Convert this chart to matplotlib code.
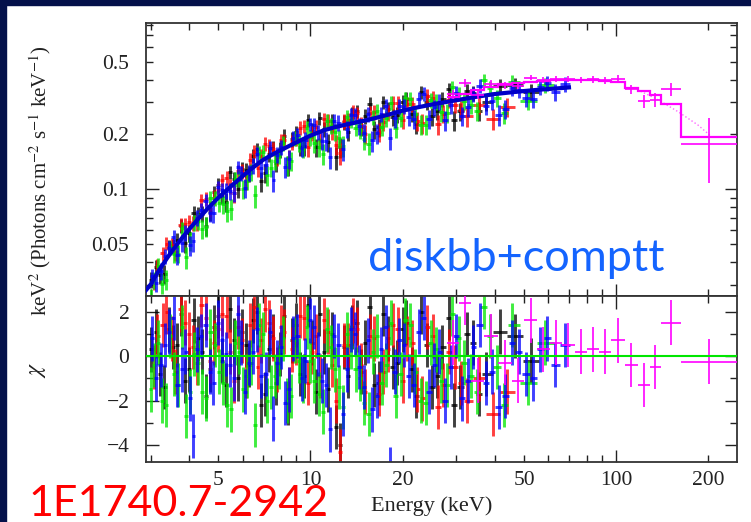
import numpy as np
import matplotlib
matplotlib.use("Agg")
import matplotlib.pyplot as plt
from matplotlib.ticker import FixedLocator, FuncFormatter
from matplotlib.patches import Rectangle

# ---------------- data ----------------
# black data group (two read-off batches)
k_E = [3.02, 3.22, 3.44, 3.66, 3.9, 4.15, 4.42, 4.7, 5.0, 5.3, 5.62, 5.96, 6.32, 6.7, 7.1, 7.52, 7.97, 8.45,
       8.95, 9.5, 10.1, 10.7, 11.4, 12.1, 12.9, 13.7, 14.6, 15.6, 16.7, 17.9, 19.2, 20.6, 22.2, 24.0, 26.0,
       28.3, 30.9, 33.9, 37.4, 41.5, 46.5, 52.5]
k_F = [0.0319, 0.034, 0.0482, 0.0525, 0.0507, 0.0742, 0.0734, 0.0752, 0.1062, 0.0853, 0.1134, 0.1288, 0.1219,
       0.1656, 0.1228, 0.169, 0.1646, 0.1359, 0.2052, 0.172, 0.2099, 0.2451, 0.181, 0.1496, 0.234, 0.26, 0.2195,
       0.2952, 0.2191, 0.2765, 0.257, 0.314, 0.2296, 0.3024, 0.2685, 0.3545, 0.2675, 0.3381, 0.3008, 0.3707,
       0.3717, 0.341]
k_err = [0.0031, 0.0037, 0.0043, 0.005, 0.0057, 0.0064, 0.0072, 0.008, 0.009, 0.0098, 0.0106, 0.0116, 0.0127,
         0.0138, 0.0148, 0.0155, 0.0163, 0.0172, 0.018, 0.0189, 0.0198, 0.0206, 0.0213, 0.022, 0.0225, 0.023,
         0.0236, 0.0242, 0.0249, 0.0256, 0.0265, 0.0273, 0.028, 0.0288, 0.0295, 0.0303, 0.0311, 0.0319, 0.0327,
         0.0334, 0.0341, 0.0348]
k_chi = [0.3, -0.8, 1.2, 0.5, -1.1, 1.6, 0.2, -0.6, 1.8, -1.3, 0.7, 1.1, -0.4, 2.0, -1.7, 0.9, 0.1, -2.1, 1.4,
         -0.9, 0.6, 1.9, -1.5, -3.2, 0.4, 1.3, -0.7, 2.2, -1.2, 0.8, -0.3, 1.5, -1.8, 0.5, -0.9, 1.7, -1.4, 0.6,
         -0.8, 1.1, 0.9, -0.2]
k2_E = [3.12, 3.33, 3.55, 3.78, 4.02, 4.28, 4.56, 4.85, 5.15, 5.46, 5.79, 6.14, 6.51, 6.9, 7.31, 7.74, 8.2,
        8.7, 9.22, 9.8, 10.4, 11.05, 11.75, 12.5, 13.3, 14.15, 15.1, 16.15, 17.3, 18.55, 20.0, 21.4, 23.0,
        25.0, 27.0, 29.5, 32.5, 35.5]
k2_F = [0.0377, 0.0344, 0.0489, 0.0631, 0.0573, 0.0734, 0.0631, 0.0961, 0.0921, 0.1246, 0.1008, 0.1281,
        0.1531, 0.1108, 0.1555, 0.1399, 0.1971, 0.1883, 0.1702, 0.2386, 0.1697, 0.2142, 0.2376, 0.17, 0.2075,
        0.268, 0.2533, 0.2132, 0.2999, 0.248, 0.3024, 0.2604, 0.3408, 0.2511, 0.311, 0.2395, 0.3476, 0.2681]
k2_err = [0.0034, 0.004, 0.0047, 0.0053, 0.0061, 0.0068, 0.0077, 0.0085, 0.0094, 0.0103, 0.0112, 0.0122,
          0.0132, 0.0142, 0.0151, 0.0159, 0.0167, 0.0176, 0.0185, 0.0194, 0.0202, 0.021, 0.0216, 0.0222,
          0.0228, 0.0233, 0.0239, 0.0245, 0.0252, 0.0261, 0.027, 0.0277, 0.0284, 0.0292, 0.0299, 0.0307,
          0.0316, 0.0323]
k2_chi = [1.1, -1.4, 0.4, 1.9, -0.6, 0.8, -1.8, 1.3, -0.2, 2.1, -1.0, 0.5, 1.6, -2.2, 0.3, -1.2, 1.8, 0.7,
          -0.8, 2.3, -1.6, 0.2, 1.0, -4.0, -0.9, 1.5, 0.6, -1.3, 1.9, -0.5, 1.2, -0.6, 2.0, -1.4, 0.4, -2.2,
          1.0, -1.7]

# red data group
r_E = [3.08, 3.3, 3.52, 3.76, 4.0, 4.27, 4.55, 4.85, 5.15, 5.47, 5.8, 6.15, 6.52, 6.9, 7.3, 7.75, 8.2, 8.7,
       9.22, 9.8, 10.4, 11.05, 11.75, 12.5, 13.3, 14.2, 15.1, 16.1, 17.3, 18.6, 20.0, 21.5, 23.2, 25.1, 27.2,
       29.6, 32.4, 35.6, 39.4, 44.0]
r_F = [0.0314, 0.0445, 0.0497, 0.0641, 0.066, 0.066, 0.0889, 0.0901, 0.1119, 0.104, 0.1254, 0.111, 0.161,
       0.153, 0.1737, 0.1495, 0.1854, 0.1813, 0.2171, 0.1707, 0.2202, 0.2424, 0.2083, 0.158, 0.2394, 0.261,
       0.2008, 0.2646, 0.2353, 0.2975, 0.2403, 0.2936, 0.23, 0.3183, 0.2601, 0.2917, 0.252, 0.2907, 0.2442,
       0.2839]
r_err = [0.0033, 0.0039, 0.0046, 0.0053, 0.006, 0.0068, 0.0076, 0.0085, 0.0094, 0.0102, 0.0111, 0.0122, 0.0132,
         0.0143, 0.0151, 0.0159, 0.0167, 0.0176, 0.0184, 0.0194, 0.0202, 0.0209, 0.0217, 0.0222, 0.0228, 0.0233,
         0.0239, 0.0245, 0.0253, 0.0261, 0.027, 0.0277, 0.0284, 0.0292, 0.0299, 0.0307, 0.0315, 0.0323, 0.033,
         0.0338]
r_chi = [-0.5, 1.4, 0.8, 2.1, 1.0, -0.3, 1.7, 0.6, 1.9, 0.2, 1.3, -0.9, 2.2, 0.7, 1.5, -0.6, 1.1, 0.3, 1.8,
         -1.2, 0.9, 1.6, -0.4, -4.3, 0.5, 1.2, -1.6, 0.8, -0.7, 1.4, -1.1, 0.6, -1.9, 0.9, -1.3, -0.5, -2.0,
         -1.0, -2.6, -1.6]
r2_E = [3.15, 3.38, 3.62, 3.88, 4.13, 4.4, 4.7, 5.0, 5.32, 5.64, 5.98, 6.34, 6.72, 7.12, 7.55, 8.0, 8.48, 8.98,
        9.52, 10.1, 10.72, 11.4, 12.1, 12.9, 13.75, 14.65, 15.6, 16.7, 17.9, 19.3, 20.7, 22.3, 24.1, 26.1,
        28.4, 31.0]
r2_F = [0.0382, 0.0504, 0.0456, 0.0644, 0.0655, 0.0873, 0.0784, 0.1008, 0.1156, 0.0952, 0.1252, 0.1448,
        0.1311, 0.1779, 0.1674, 0.1853, 0.1462, 0.1919, 0.2223, 0.203, 0.1875, 0.2364, 0.176, 0.2363, 0.2668,
        0.2266, 0.2638, 0.2067, 0.2637, 0.2979, 0.2948, 0.238, 0.3254, 0.2272, 0.3091, 0.2737]
r2_err = [0.0035, 0.0042, 0.0049, 0.0056, 0.0063, 0.0071, 0.008, 0.009, 0.0098, 0.0107, 0.0117, 0.0127,
          0.0138, 0.0147, 0.0155, 0.0164, 0.0172, 0.0181, 0.019, 0.0199, 0.0206, 0.0213, 0.022, 0.0225, 0.023,
          0.0236, 0.0242, 0.0249, 0.0256, 0.0266, 0.0273, 0.028, 0.0288, 0.0295, 0.0303, 0.0311]
r2_chi = [0.9, 2.0, -0.7, 1.5, 0.4, 2.3, -0.2, 1.2, 1.8, -1.1, 0.7, 1.4, -0.5, 2.1, 0.8, 1.3, -1.5, 0.6, 1.7,
          0.2, -0.9, 1.1, -2.0, 0.5, 1.6, -0.4, 0.9, -1.7, 0.3, 1.2, 0.8, -1.5, 1.3, -2.3, 0.2, -1.2]

# green data group
g_E = [3.0, 3.18, 3.38, 3.59, 3.81, 4.05, 4.3, 4.57, 4.86, 5.16, 5.48, 5.82, 6.18, 6.57, 6.98, 7.41, 7.87,
       8.36, 8.88, 9.43, 10.0, 10.65, 11.3, 12.0, 12.8, 13.6, 14.5, 15.5, 16.5, 17.7, 19.0, 20.4, 22.0, 23.8,
       25.8, 28.0, 30.5, 33.4, 36.8, 40.8, 45.6, 51.5, 58.5]
g_F = [0.0255, 0.0382, 0.032, 0.0442, 0.061, 0.0521, 0.0669, 0.0624, 0.0893, 0.0827, 0.0783, 0.1142, 0.111,
       0.0925, 0.1595, 0.1316, 0.153, 0.136, 0.1915, 0.1673, 0.1931, 0.1702, 0.2374, 0.2059, 0.1733, 0.2392,
       0.2115, 0.1783, 0.2703, 0.2448, 0.2165, 0.3155, 0.2595, 0.2267, 0.3028, 0.2627, 0.3348, 0.2894, 0.3977,
       0.3164, 0.3876, 0.3054, 0.3742]
g_err = [0.003, 0.0036, 0.0041, 0.0048, 0.0054, 0.0062, 0.0069, 0.0077, 0.0085, 0.0094, 0.0103, 0.0112, 0.0122,
         0.0134, 0.0145, 0.0153, 0.0161, 0.017, 0.0179, 0.0188, 0.0197, 0.0205, 0.0212, 0.0219, 0.0225, 0.023,
         0.0235, 0.0241, 0.0248, 0.0255, 0.0264, 0.0272, 0.0279, 0.0287, 0.0294, 0.0302, 0.031, 0.0318, 0.0326,
         0.0333, 0.034, 0.0347, 0.0353]
g_chi = [-1.5, 0.6, -2.2, -0.8, 1.3, -1.6, -0.3, -1.9, 0.5, -1.2, -2.4, 0.2, -0.9, -3.1, 1.0, -1.4, -0.5,
         -2.0, 0.7, -1.1, -0.2, -1.7, 1.2, -0.6, -2.3, 0.4, -1.0, -2.6, 0.9, -0.4, -1.8, 1.6, -0.7, -2.1, 0.3,
         -1.3, 0.8, -0.9, 2.2, -0.5, 1.4, -1.2, 0.6]
g2_E = [3.09, 3.28, 3.48, 3.7, 3.93, 4.17, 4.43, 4.71, 5.01, 5.32, 5.65, 6.0, 6.37, 6.77, 7.19, 7.64, 8.11,
        8.61, 9.15, 9.71, 10.3, 10.95, 11.65, 12.4, 13.2, 14.05, 15.0, 16.0, 17.1, 18.3, 19.7, 21.2, 22.9,
        24.7, 26.8, 29.1, 31.8, 35.0, 38.5, 43.0]
g2_F = [0.0317, 0.0304, 0.048, 0.0444, 0.0423, 0.0657, 0.0605, 0.0899, 0.0837, 0.0764, 0.1134, 0.1003,
        0.1242, 0.1585, 0.1192, 0.1429, 0.1793, 0.1427, 0.1793, 0.217, 0.1789, 0.1568, 0.2236, 0.1901, 0.2497,
        0.2181, 0.188, 0.2489, 0.2209, 0.2979, 0.2466, 0.3146, 0.2264, 0.3074, 0.2652, 0.363, 0.3046, 0.2705,
        0.3586, 0.2629]
g2_err = [0.0033, 0.0038, 0.0044, 0.0051, 0.0058, 0.0065, 0.0072, 0.0081, 0.009, 0.0098, 0.0107, 0.0118,
          0.0128, 0.0139, 0.0149, 0.0157, 0.0166, 0.0174, 0.0183, 0.0192, 0.0201, 0.0209, 0.0215, 0.0221,
          0.0227, 0.0232, 0.0238, 0.0244, 0.0251, 0.0259, 0.0268, 0.0276, 0.0283, 0.029, 0.0298, 0.0305,
          0.0314, 0.0322, 0.0329, 0.0337]
g2_chi = [-0.4, -2.0, 0.9, -1.3, -2.7, 0.1, -1.6, 1.1, -0.7, -2.2, 0.6, -1.5, -0.3, 1.4, -2.0, -0.9, 0.8,
          -1.8, -0.2, 1.3, -1.1, -2.5, 0.4, -1.4, 1.0, -0.6, -2.1, 0.2, -1.2, 1.5, -0.8, 1.4, -2.0, 0.6, -1.1,
          1.9, -0.3, -1.6, 0.9, -2.2]

# blue data group
b_E = [3.04, 3.24, 3.45, 3.67, 3.9, 4.14, 4.4, 4.68, 4.97, 5.28, 5.61, 5.95, 6.32, 6.71, 7.13, 7.57, 8.04,
       8.54, 9.07, 9.63, 10.25, 10.9, 11.6, 12.35, 13.15, 14.0, 14.95, 15.95, 17.0, 18.2, 19.5, 21.0, 22.6,
       24.4, 26.4, 28.7, 31.2, 34.1, 37.4, 41.2, 45.6, 50.6, 56.4, 63.0, 68.0]
b_F = [0.0335, 0.0355, 0.0477, 0.0435, 0.0581, 0.052, 0.0774, 0.0744, 0.1024, 0.098, 0.0954, 0.123, 0.1232,
       0.1557, 0.1362, 0.1123, 0.1706, 0.147, 0.1984, 0.1872, 0.226, 0.1851, 0.15, 0.232, 0.2134, 0.2552,
       0.2047, 0.1854, 0.2585, 0.19, 0.2857, 0.2503, 0.313, 0.2428, 0.3029, 0.2888, 0.2527, 0.3328, 0.2878,
       0.2564, 0.3604, 0.3183, 0.3626, 0.3427, 0.379]
b_err = [0.0031, 0.0037, 0.0043, 0.005, 0.0057, 0.0064, 0.0071, 0.008, 0.0089, 0.0097, 0.0106, 0.0116, 0.0127,
         0.0139, 0.0148, 0.0156, 0.0164, 0.0173, 0.0182, 0.0191, 0.02, 0.0208, 0.0215, 0.0221, 0.0227, 0.0232,
         0.0238, 0.0244, 0.0251, 0.0259, 0.0267, 0.0275, 0.0282, 0.0289, 0.0297, 0.0304, 0.0312, 0.032, 0.0327,
         0.0333, 0.034, 0.0346, 0.0352, 0.0357, 0.0361]
b_chi = [0.8, -0.4, 1.1, -1.3, 0.2, -3.6, 0.9, -0.7, 1.5, 0.1, -1.0, 0.6, -0.3, 1.2, -0.8, -2.8, 0.4, -1.5,
         0.9, -0.2, 1.3, -1.1, -3.3, 0.5, -0.6, 1.0, -1.4, -2.4, 0.3, -5.1, 0.7, -0.9, 1.1, -1.6, 0.2, -0.5,
         -1.9, 0.4, -1.2, -2.3, 0.6, -0.8, 0.3, -0.4, 0.5]
b2_E = [3.13, 3.35, 3.57, 3.8, 4.03, 4.27, 4.54, 4.82, 5.12, 5.44, 5.78, 6.13, 6.5, 6.91, 7.35, 7.8, 8.28,
        8.8, 9.35, 9.94, 10.57, 11.25, 11.95, 12.75, 13.55, 14.45, 15.45, 16.45, 17.6, 18.85, 20.2, 21.8,
        23.5, 25.4, 27.5, 30.0, 32.7, 35.7, 39.3, 43.4, 48.0, 53.5, 59.5]
b2_F = [0.0306, 0.0431, 0.055, 0.0508, 0.0494, 0.07, 0.0866, 0.0739, 0.0995, 0.0979, 0.1321, 0.1016, 0.1346,
        0.1301, 0.1687, 0.1552, 0.1327, 0.1922, 0.1683, 0.2274, 0.206, 0.1844, 0.2376, 0.1658, 0.2565, 0.2233,
        0.2579, 0.2025, 0.287, 0.2446, 0.2846, 0.2427, 0.3335, 0.2813, 0.24, 0.3357, 0.2812, 0.3682, 0.3069,
        0.2763, 0.3499, 0.3141, 0.3823]
b2_err = [0.0034, 0.0041, 0.0047, 0.0054, 0.0061, 0.0068, 0.0076, 0.0084, 0.0093, 0.0102, 0.0111, 0.0121,
          0.0132, 0.0143, 0.0152, 0.016, 0.0168, 0.0178, 0.0187, 0.0196, 0.0204, 0.0212, 0.0218, 0.0224,
          0.0229, 0.0235, 0.0241, 0.0247, 0.0254, 0.0263, 0.0271, 0.0279, 0.0285, 0.0293, 0.03, 0.0308,
          0.0316, 0.0323, 0.033, 0.0337, 0.0343, 0.0349, 0.0354]
b2_chi = [-1.0, 0.5, 1.7, -0.6, -1.9, 0.3, 1.4, -1.2, 0.7, -0.4, 1.9, -1.6, 0.2, -0.9, 1.1, -0.3, -2.1, 0.8,
          -1.0, 1.6, 0.1, -1.3, 0.9, -2.6, 1.2, -0.5, 0.7, -1.8, 1.3, -0.7, 0.5, -1.3, 1.7, -0.4, -2.0, 0.9,
          -1.1, 1.4, -0.7, -1.8, 0.2, -1.0, 0.8]

# magenta data group (high-energy instrument), explicit bin edges
m_edges = [28, 30.5, 33.5, 37, 41, 45.5, 50, 55, 60.5, 66.5, 73, 80, 87.5, 96, 106.5, 117.5, 129, 139.5, 163, 248]
m_F = [0.332, 0.383, 0.330, 0.380, 0.372, 0.368, 0.410, 0.398, 0.404, 0.404, 0.400, 0.401, 0.397, 0.403,
       0.353, 0.305, 0.310, 0.355, 0.177]
m_err = [0.02, 0.02, 0.018, 0.017, 0.016, 0.015, 0.014, 0.014, 0.014, 0.014, 0.015, 0.016, 0.017, 0.019,
         0.02, 0.024, 0.028, 0.03, 0.068]
m_chi = [0.6, 2.4, -1.1, 0.9, -0.3, -1.1, 1.6, 0.3, 0.6, 0.5, 0.2, 0.3, 0.2, 0.7, -0.4, -1.3, -0.5, 1.5, -0.25]
m_model = [0.320, 0.335, 0.350, 0.365, 0.377, 0.385, 0.390, 0.394, 0.396, 0.397, 0.397, 0.396, 0.394, 0.390,
           0.361, 0.348, 0.330, 0.295, 0.194]
m_dot_E = [120, 137, 160, 185, 205]
m_dot_F = [0.345, 0.31, 0.265, 0.225, 0.194]

# best-fit model curve (blue)
model_E = [2.9, 3.0, 3.2, 3.4, 3.6, 3.8, 4.0, 4.3, 4.6, 5.0, 5.5, 6.0, 6.5, 7.0, 7.5, 8.0, 9.0, 10.0, 11.0,
           12.0, 13.0, 14.0, 15.0, 16.0, 18.0, 20.0, 22.5, 25.0, 28.0, 31.0, 35.0, 40.0, 45.0, 50.0, 56.0,
           63.0, 70.0]
model_F = [0.028, 0.030, 0.036, 0.042, 0.048, 0.054, 0.060, 0.069, 0.078, 0.090, 0.104, 0.118, 0.132, 0.145,
           0.155, 0.164, 0.181, 0.197, 0.210, 0.219, 0.226, 0.232, 0.238, 0.244, 0.257, 0.270, 0.282, 0.292,
           0.302, 0.311, 0.322, 0.333, 0.340, 0.346, 0.352, 0.357, 0.362]

x_ticklabel_vals = [5, 10, 20, 50, 100, 200]
y_top_label_vals = [0.05, 0.1, 0.2, 0.5]
y_bot_label_vals = [-4, -2, 0, 2]

title_model = "diskbb+comptt"
source_name = "1E1740.7-2942"

# ---------------- figure ----------------
plt.rcParams['font.family'] = ['Liberation Serif', 'DejaVu Serif']
plt.rcParams['mathtext.fontset'] = 'stix'

W, H = 751, 522
fig = plt.figure(figsize=(W / 100, H / 100), dpi=100)
fig.patch.set_facecolor('white')

navy = '#04114a'
fig.patches.append(Rectangle((0, 1 - 5 / H), 1, 5 / H, transform=fig.transFigure, color=navy, zorder=0))
fig.patches.append(Rectangle((0, 0), 6 / W, 1, transform=fig.transFigure, color=navy, zorder=0))

L, R = 146, 737
T, M, B = 22.7, 296, 461.7
ax1 = fig.add_axes([L / W, 1 - M / H, (R - L) / W, (M - T) / H])
ax2 = fig.add_axes([L / W, 1 - B / H, (R - L) / W, (B - M) / H], sharex=ax1)


def merge(*groups):
    E = np.concatenate([np.asarray(g[0], float) for g in groups])
    F = np.concatenate([np.asarray(g[1], float) for g in groups])
    er = np.concatenate([np.asarray(g[2], float) for g in groups])
    ch = np.concatenate([np.asarray(g[3], float) for g in groups])
    o = np.argsort(E)
    return E[o], F[o], er[o], ch[o]


def bin_edges(E):
    mid = np.sqrt(E[:-1] * E[1:])
    lo = np.concatenate([[E[0] ** 2 / mid[0]], mid])
    hi = np.concatenate([mid, [E[-1] ** 2 / mid[-1]]])
    return lo, hi


series = [
    (merge((k_E, k_F, k_err, k_chi), (k2_E, k2_F, k2_err, k2_chi)), 'black'),
    (merge((r_E, r_F, r_err, r_chi), (r2_E, r2_F, r2_err, r2_chi)), '#ff0000'),
    (merge((g_E, g_F, g_err, g_chi), (g2_E, g2_F, g2_err, g2_chi)), '#00e600'),
    (merge((b_E, b_F, b_err, b_chi), (b2_E, b2_F, b2_err, b2_chi)), '#0000ff'),
]

for (E, F, err, chi), col in series:
    lo, hi = bin_edges(E)
    xerr = [E - lo, hi - E]
    ax1.errorbar(E, F, yerr=err, xerr=xerr, fmt='none', ecolor=col, elinewidth=2.1, alpha=0.75, zorder=2)
    ax2.errorbar(E, chi, yerr=1.0, xerr=xerr, fmt='none', ecolor=col, elinewidth=2.1, alpha=0.75, zorder=2)

# model curve
ax1.plot(model_E, model_F, color='#0000c8', lw=3.0, zorder=3)

# magenta group
me = np.asarray(m_edges, float)
mc = np.sqrt(me[:-1] * me[1:])
mxerr = [mc - me[:-1], me[1:] - mc]
ax1.errorbar(mc, m_F, yerr=m_err, xerr=mxerr, fmt='none', ecolor='#ff00ff', elinewidth=1.4, alpha=0.85, zorder=4)
ax1.stairs(m_model, me, color='#ff00ff', lw=1.6, zorder=4, baseline=None)
ax1.plot(m_dot_E, m_dot_F, color='#ff00ff', lw=1.0, ls=':', alpha=0.6, zorder=4)
ax2.errorbar(mc, m_chi, yerr=1.0, xerr=mxerr, fmt='none', ecolor='#ff00ff', elinewidth=1.4, alpha=0.85, zorder=4)

ax2.axhline(0, color='#00e600', lw=1.5, zorder=5)

# ---------------- axes styling ----------------
ax1.set_xscale('log')
ax1.set_yscale('log')
ax1.set_xlim(2.9, 248)
ax1.set_ylim(0.026, 0.82)
ax2.set_ylim(-4.75, 2.7)

xmaj = [10, 100]
xmin = [3, 4, 5, 6, 7, 8, 9, 20, 30, 40, 50, 60, 70, 80, 90, 200]
for ax in (ax1, ax2):
    ax.xaxis.set_major_locator(FixedLocator(xmaj))
    ax.xaxis.set_minor_locator(FixedLocator(xmin))


def xfmt(v, pos):
    for t in x_ticklabel_vals:
        if abs(v - t) < 1e-6 * t:
            return str(t)
    return ''


def ytopfmt(v, pos):
    for t in y_top_label_vals:
        if abs(v - t) < 1e-6:
            return ('%g' % t)
    return ''


ax2.xaxis.set_major_formatter(FuncFormatter(xfmt))
ax2.xaxis.set_minor_formatter(FuncFormatter(xfmt))
ax1.tick_params(axis='x', which='both', labelbottom=False)

ax1.yaxis.set_major_locator(FixedLocator([0.1]))
ax1.yaxis.set_minor_locator(FixedLocator([0.03, 0.04, 0.05, 0.06, 0.07, 0.08, 0.09, 0.2, 0.3, 0.4, 0.5,
                                          0.6, 0.7, 0.8]))
ax1.yaxis.set_major_formatter(FuncFormatter(ytopfmt))
ax1.yaxis.set_minor_formatter(FuncFormatter(ytopfmt))

ax2.yaxis.set_major_locator(FixedLocator(y_bot_label_vals))
ax2.yaxis.set_minor_locator(FixedLocator([-3, -1, 1]))
ax2.yaxis.set_major_formatter(FuncFormatter(lambda v, p: ('%d' % v).replace('-', '\u2212')))

for ax in (ax1, ax2):
    ax.tick_params(which='both', direction='in', top=True, right=True, colors='#222222',
                   labelsize=15.5, width=1.0)
    ax.tick_params(which='major', length=9)
    ax.tick_params(which='minor', length=5)
    ax.tick_params(axis='y', which='both', pad=12)
    ax.tick_params(axis='x', which='both', pad=7)
    for s in ax.spines.values():
        s.set_linewidth(1.3)
        s.set_color('#333333')

# labels
fig.text(40 / W, 1 - 181 / H, r'keV$^{2}$ (Photons cm$^{-2}$ s$^{-1}$ keV$^{-1}$)', rotation=90,
         ha='center', va='center', fontsize=15, color='#222222')
fig.text(38 / W, 1 - 370 / H, r'$\chi$', rotation=90, ha='center', va='center', fontsize=17, color='#222222')
fig.text(432 / W, 1 - 496 / H, 'Energy (keV)', ha='center', va='top', fontsize=16, color='#222222')

fig.text(368 / W, 1 - 271 / H, title_model, ha='left', va='baseline', fontsize=32.5, color='#1464ff',
         family=['Lato', 'DejaVu Sans'])
fig.text(28 / W, 1 - 516 / H, source_name, ha='left', va='baseline', fontsize=31, color='#ff0000',
         family=['Lato', 'DejaVu Sans'])

fig.savefig('out.png', dpi=100, facecolor='white')
